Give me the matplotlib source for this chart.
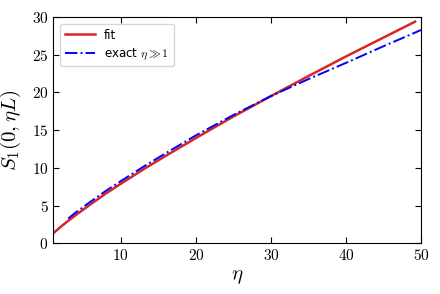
import matplotlib
matplotlib.use("Agg")
import matplotlib.pyplot as plt
from matplotlib.ticker import FuncFormatter

plt.rcParams['mathtext.fontset'] = 'cm'

# fit curve
eta_fit = [1, 2, 3, 4, 6, 8, 10, 13, 16, 20, 25, 30, 35, 40, 45, 49.2]
s_fit = [1.35, 2.2, 3.0, 3.75, 5.2, 6.6, 7.9, 9.8, 11.6, 13.95, 16.8, 19.5, 22.15, 24.75, 27.25, 29.35]

# asymptotic exact result, eta >> 1
eta_exact = [3, 4, 6, 8, 10, 13, 16, 20, 25, 30, 35, 40, 45, 50]
s_exact = [3.3, 4.1, 5.55, 6.95, 8.25, 10.15, 11.95, 14.3, 17.0, 19.5, 21.75, 23.9, 26.1, 28.25]

fig = plt.figure(figsize=(4.4, 2.94), dpi=100)
ax = fig.add_axes([0.121, 0.172, 0.836, 0.771])

ax.plot(eta_fit, s_fit, color='#d62728', lw=1.8, label='fit')
ax.plot(eta_exact, s_exact, color='blue', lw=1.4, ls='-.', label=r'exact $\eta\gg1$')

ax.set_xlim(1, 50)
ax.set_ylim(0, 30)
ax.set_xticks([10, 20, 30, 40, 50])
ax.set_yticks([0, 5, 10, 15, 20, 25, 30])
fmt = FuncFormatter(lambda v, p: r'$%g$' % v)
ax.xaxis.set_major_formatter(fmt)
ax.yaxis.set_major_formatter(fmt)
ax.tick_params(direction='in', top=True, right=True, labelsize=11, length=4)

ax.set_xlabel(r'$\eta$', fontsize=15, labelpad=2)
ax.set_ylabel(r'$S_1(0,\eta L)$', fontsize=15, labelpad=6)

ax.legend(loc='upper left', fontsize=8.5, handlelength=2.5, labelspacing=0.4,
          borderaxespad=0.6)

plt.savefig("out.png", dpi=100)
